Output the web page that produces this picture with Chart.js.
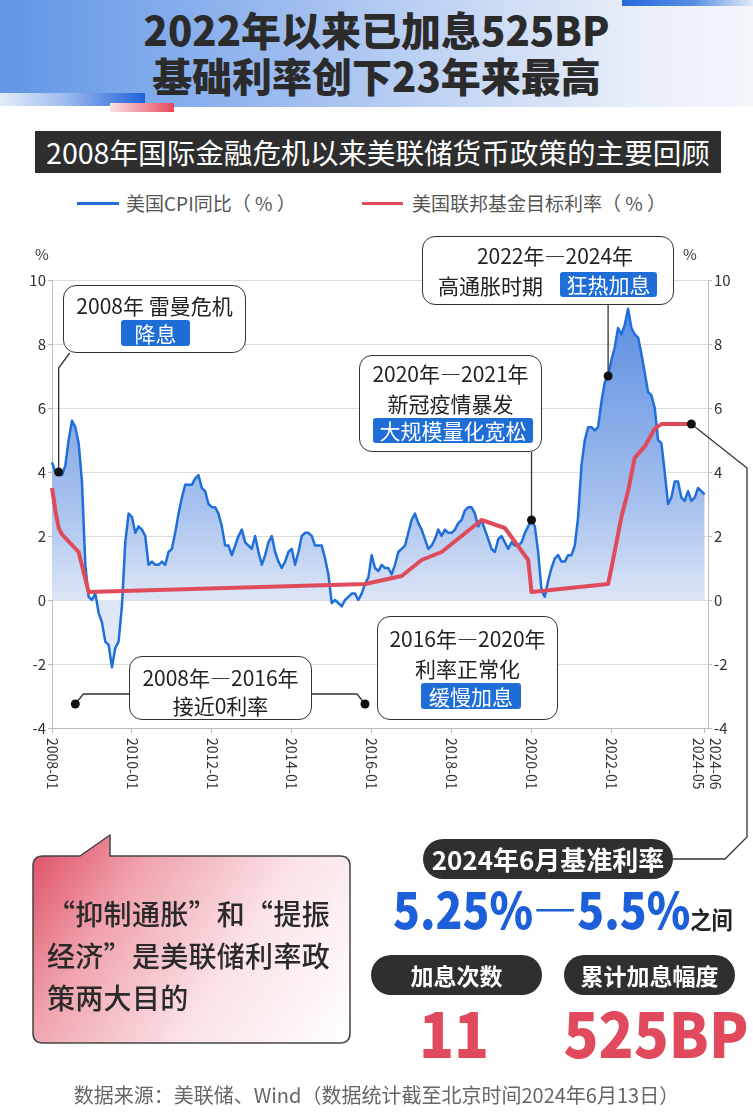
<!DOCTYPE html>
<html lang="zh-CN">
<head>
<meta charset="utf-8">
<title>2008年国际金融危机以来美联储货币政策的主要回顾</title>
<script src="https://cdn.jsdelivr.net/npm/chart.js@4.4.1/dist/chart.umd.min.js"></script>
<style>
  html, body { margin: 0; padding: 0; background: #fff; }
  body { width: 753px; height: 1115px; position: relative; overflow: hidden;
         font-family: "Noto Sans CJK SC", "Noto Sans", sans-serif; color: #222; }
  .a { position: absolute; white-space: nowrap; }
  .c { text-align: center; }
  #chartBox { position: absolute; left: 0; top: 0; width: 753px; height: 1115px; }
  .box { position: absolute; box-sizing: border-box; background: #fff;
         border: 1.5px solid #333; border-radius: 13px; }
  .call { font-size: 21px; line-height: 26px; height: 26px; color: #222; }
  .badge { position: absolute; background: #1f6ed8; color: #fff; border-radius: 3px;
           font-size: 21px; text-align: center; }
  .pill { position: absolute; background: #2f2f2f; color: #fff; border-radius: 21px;
          font-weight: 700; text-align: center; }
  .big { font-weight: 900; color: #e04a5c; font-size: 62px; line-height: 62px; height: 62px;
         transform: scaleX(0.93); transform-origin: 50% 0; }
</style>
</head>
<body>

<!-- header -->
<div class="a" style="left:0;top:0;width:753px;height:107px;background:linear-gradient(90deg,#6096e6 0%,#8fb3ee 30%,#c3d5f4 60%,#e9eff9 85%,#f4f6fb 100%);"></div>
<div class="a" style="left:622px;top:0;width:131px;height:6px;background:linear-gradient(90deg,#2468dc,#5a8ee4 55%,#e3ebf8);"></div>
<div class="a" style="left:0;top:93px;width:145px;height:13px;background:linear-gradient(90deg,#e4ecf9 0%,#9dbbf0 45%,#1f62d8 100%);"></div>
<div class="a" style="left:0;top:106px;width:110px;height:6px;background:#fff;"></div>
<div class="a" style="left:110px;top:103px;width:64px;height:9px;background:linear-gradient(90deg,#fbe3e6,#e5485a);"></div>
<div class="a c" style="left:0;top:9px;width:753px;font-size:40px;line-height:40px;font-weight:900;color:#2b2b2b;">2022年以来已加息525BP</div>
<div class="a c" style="left:0;top:55px;width:753px;font-size:40px;line-height:40px;font-weight:900;color:#2b2b2b;">基础利率创下23年来最高</div>

<div class="a c" style="left:35px;top:131px;width:686px;height:42px;line-height:42px;background:#2e2e2e;color:#fff;font-size:28.6px;">2008年国际金融危机以来美联储货币政策的主要回顾</div>

<!-- legend -->
<div class="a" style="left:77px;top:202px;width:42px;height:3px;background:#1f6fdb;"></div>
<div class="a" style="left:126px;top:191px;font-size:19px;line-height:24px;color:#555;">美国CPI同比（ % ）</div>
<div class="a" style="left:362px;top:202px;width:41px;height:3px;background:#e04b5c;"></div>
<div class="a" style="left:412px;top:191px;font-size:19px;line-height:24px;color:#555;">美国联邦基金目标利率（ % ）</div>

<div id="chartBox"><canvas id="chart"></canvas></div>

<!-- callouts -->
<div class="box" style="left:63px;top:285px;width:183px;height:68px;"></div>
<div class="a c call" style="left:63px;top:292px;width:183px;">2008年 雷曼危机</div>
<div class="badge" style="left:121px;top:320px;width:69px;height:26px;line-height:26px;">降息</div>

<div class="box" style="left:359px;top:355px;width:183px;height:97px;"></div>
<div class="a c call" style="left:359px;top:360px;width:183px;">2020年—2021年</div>
<div class="a c call" style="left:359px;top:390px;width:183px;">新冠疫情暴发</div>
<div class="badge" style="left:373px;top:418px;width:160px;height:25px;line-height:25px;">大规模量化宽松</div>

<div class="box" style="left:422px;top:236px;width:252px;height:69px;"></div>
<div class="a c call" style="left:422px;top:242px;width:266px;">2022年—2024年</div>
<div class="a call" style="left:438px;top:272px;">高通胀时期</div>
<div class="badge" style="left:560px;top:272px;width:97px;height:25px;line-height:25px;">狂热加息</div>

<div class="box" style="left:129px;top:656px;width:183px;height:64px;"></div>
<div class="a c call" style="left:129px;top:664px;width:183px;">2008年—2016年</div>
<div class="a c call" style="left:129px;top:692px;width:183px;">接近0利率</div>

<div class="box" style="left:377px;top:616px;width:181px;height:104px;"></div>
<div class="a c call" style="left:377px;top:625px;width:181px;">2016年—2020年</div>
<div class="a c call" style="left:377px;top:655px;width:181px;">利率正常化</div>
<div class="badge" style="left:421px;top:683px;width:100px;height:26px;line-height:26px;">缓慢加息</div>

<!-- speech bubble -->
<svg class="a" style="left:0;top:0;" width="753" height="1115" viewBox="0 0 753 1115">
  <defs>
    <linearGradient id="pink" x1="33" y1="835" x2="350" y2="1043" gradientUnits="userSpaceOnUse">
      <stop offset="0" stop-color="#de4a60"/>
      <stop offset="0.28" stop-color="#f0a2ad"/>
      <stop offset="0.62" stop-color="#fbe3e7"/>
      <stop offset="1" stop-color="#ffffff"/>
    </linearGradient>
  </defs>
  <path d="M43 856 L80 856 L110 835 L110 856 L340 856 Q350 856 350 866 L350 1033 Q350 1043 340 1043 L43 1043 Q33 1043 33 1033 L33 866 Q33 856 43 856 Z"
        fill="url(#pink)" stroke="#444" stroke-width="1.5" stroke-linejoin="round"/>
</svg>
<div class="a" style="left:47px;top:892px;font-size:28px;line-height:42px;font-weight:500;color:#2a2a2a;letter-spacing:0.3px;">“抑制通胀”和“提振<br>经济”是美联储利率政<br>策两大目的</div>

<!-- key numbers -->
<div class="pill" style="left:423px;top:839px;width:250px;height:40px;line-height:40px;font-size:26px;">2024年6月基准利率</div>
<div class="a" style="left:393px;top:882px;font-size:50px;line-height:50px;font-weight:900;color:#1c5fd8;transform:scaleX(0.885);transform-origin:0 0;">5.25%—5.5%<span style="font-size:24px;color:#222;font-weight:700;">之间</span></div>
<div class="pill" style="left:371px;top:955px;width:171px;height:40px;line-height:40px;font-size:23px;">加息次数</div>
<div class="pill" style="left:564px;top:955px;width:171px;height:40px;line-height:40px;font-size:23px;">累计加息幅度</div>
<div class="a c big" style="left:384px;top:1000px;width:140px;">11</div>
<div class="a c big" style="left:556px;top:1000px;width:200px;">525BP</div>

<div class="a c" style="left:0;top:1083px;width:753px;font-size:20px;line-height:24px;color:#666;">数据来源：美联储、Wind（数据统计截至北京时间2024年6月13日）</div>

<script>
// monthly categories 2008-01 .. 2024-06
const months = [];
for (let yr = 2008; yr <= 2024; yr++) {
    for (let m = 1; m <= 12; m++) {
        if (yr === 2024 && m > 6) break;
        months.push(yr + '-' + String(m).padStart(2, '0'));
    }
}

// US CPI year-on-year, %, 2008-01 .. 2024-05
const cpiYoY = [
    4.3, 4.0, 4.0, 3.9, 4.2, 5.0, 5.6, 5.4, 4.9, 3.7, 1.1, 0.1,
    0.0, 0.2, -0.4, -0.7, -1.3, -1.4, -2.1, -1.5, -1.3, -0.2, 1.8, 2.7,
    2.6, 2.1, 2.3, 2.2, 2.0, 1.1, 1.2, 1.1, 1.1, 1.2, 1.1, 1.5,
    1.6, 2.1, 2.7, 3.2, 3.6, 3.6, 3.6, 3.8, 3.9, 3.5, 3.4, 3.0,
    2.9, 2.9, 2.7, 2.3, 1.7, 1.7, 1.4, 1.7, 2.0, 2.2, 1.8, 1.7,
    1.6, 2.0, 1.5, 1.1, 1.4, 1.8, 2.0, 1.5, 1.2, 1.0, 1.2, 1.5,
    1.6, 1.1, 1.5, 2.0, 2.1, 2.1, 2.0, 1.7, 1.7, 1.7, 1.3, 0.8,
    -0.1, 0.0, -0.1, -0.2, 0.0, 0.1, 0.2, 0.2, 0.0, 0.2, 0.5, 0.7,
    1.4, 1.0, 0.9, 1.1, 1.0, 1.0, 0.8, 1.1, 1.5, 1.6, 1.7, 2.1,
    2.5, 2.7, 2.4, 2.2, 1.9, 1.6, 1.7, 1.9, 2.2, 2.0, 2.2, 2.1,
    2.1, 2.2, 2.4, 2.5, 2.8, 2.9, 2.9, 2.7, 2.3, 2.5, 2.2, 1.9,
    1.6, 1.5, 1.9, 2.0, 1.8, 1.6, 1.8, 1.7, 1.7, 1.8, 2.1, 2.3,
    2.5, 2.3, 1.5, 0.3, 0.1, 0.6, 1.0, 1.3, 1.4, 1.2, 1.2, 1.4,
    1.4, 1.7, 2.6, 4.2, 5.0, 5.4, 5.4, 5.3, 5.4, 6.2, 6.8, 7.0,
    7.5, 7.9, 8.5, 8.3, 8.6, 9.1, 8.5, 8.3, 8.2, 7.7, 7.1, 6.5,
    6.4, 6.0, 5.0, 4.9, 4.0, 3.0, 3.2, 3.7, 3.7, 3.2, 3.1, 3.4,
    3.1, 3.2, 3.5, 3.4, 3.3
];

// fed funds target rate, %, read at its turning points
const rateMonths = ['2008-01', '2008-02', '2008-03', '2008-04', '2008-09', '2008-12',
    '2015-11', '2016-10', '2017-04', '2017-10', '2018-10', '2019-05', '2019-12', '2020-01',
    '2021-12', '2022-01', '2022-04', '2022-06', '2022-08', '2022-11', '2023-02', '2023-04', '2024-01'];
const rateValues = [3.5, 2.8, 2.25, 2.05, 1.5, 0.25,
    0.5, 0.75, 1.25, 1.5, 2.5, 2.25, 1.25, 0.25,
    0.5, 1.0, 2.6, 3.4, 4.45, 4.8, 5.35, 5.5, 5.5];

const xTickLabels = ['2008-01', '2010-01', '2012-01', '2014-01', '2016-01', '2018-01', '2020-01', '2022-01', '2024-05'];
const xEndLabel = '2024-06';
const yTicks = [-4, -2, 0, 2, 4, 6, 8, 10];

function cpiFill(context) {
    const chart = context.chart;
    if (!chart.chartArea) return 'rgba(120,160,230,0.4)';
    const ys = chart.scales.y;
    const g = chart.ctx.createLinearGradient(0, ys.getPixelForValue(9.5), 0, ys.getPixelForValue(-2.5));
    g.addColorStop(0, '#568ae0');
    g.addColorStop(0.55, '#a8c2ee');
    g.addColorStop(0.79, '#dce5f6');
    g.addColorStop(1, '#eaf0fa');
    return g;
}

function leader(ctx, pts) {
    ctx.beginPath();
    ctx.moveTo(pts[0][0], pts[0][1]);
    for (let i = 1; i < pts.length; i++) ctx.lineTo(pts[i][0], pts[i][1]);
    ctx.stroke();
}
function dot(ctx, x, y) {
    ctx.beginPath();
    ctx.arc(x, y, 4.5, 0, Math.PI * 2);
    ctx.fill();
}

const decorations = {
    id: 'decorations',
    afterDraw(chart) {
        const { ctx, scales: { x, y } } = chart;
        ctx.save();

        // rotated x labels, reading downwards
        ctx.fillStyle = '#333';
        ctx.font = '14px "Noto Sans CJK SC"';
        ctx.textAlign = 'left';
        ctx.textBaseline = 'middle';
        const xl = xTickLabels.map(l => [l, x.getPixelForValue(months.indexOf(l))]);
        xl[xl.length - 1][1] -= 6;
        xl.push([xEndLabel, x.getPixelForValue(months.indexOf(xEndLabel)) + 7]);
        xl.forEach(([l, px]) => {
            ctx.save();
            ctx.translate(px, 738);
            ctx.rotate(Math.PI / 2);
            ctx.fillText(l, 0, 0);
            ctx.restore();
        });

        ctx.font = '15px "Noto Sans CJK SC"';
        ctx.textAlign = 'center';
        ctx.fillText('%', 42, 254);
        ctx.fillText('%', 690, 254);

        // leader lines and anchor dots
        ctx.strokeStyle = '#333';
        ctx.fillStyle = '#111';
        ctx.lineWidth = 1.3;
        const cpiAt = l => [x.getPixelForValue(months.indexOf(l)), y.getPixelForValue(cpiYoY[months.indexOf(l)])];

        const p1 = cpiAt('2008-03');
        leader(ctx, [p1, [p1[0], 368], [p1[0] + 11, 353]]);
        dot(ctx, p1[0], p1[1]);

        const p2 = cpiAt('2020-01');
        leader(ctx, [p2, [p2[0], 452]]);
        dot(ctx, p2[0], p2[1]);

        const p3 = cpiAt('2021-12');
        leader(ctx, [p3, [p3[0], 305]]);
        dot(ctx, p3[0], p3[1]);

        const yl = y.getPixelForValue(-3.25);
        const a = x.getPixelForValue(months.indexOf('2008-08'));
        const b = x.getPixelForValue(months.indexOf('2015-11'));
        leader(ctx, [[a, yl], [a + 8, 694], [129, 694]]);
        leader(ctx, [[312, 694], [b - 8, 694], [b, yl]]);
        dot(ctx, a, yl);
        dot(ctx, b, yl);

        const last = rateMonths.length - 1;
        const re = [x.getPixelForValue(months.indexOf(rateMonths[last])), y.getPixelForValue(rateValues[last])];
        leader(ctx, [re, [747, 468], [747, 837], [725, 859], [673, 859]]);
        dot(ctx, re[0], re[1]);

        ctx.restore();
    }
};

new Chart(document.getElementById('chart').getContext('2d'), {
    type: 'line',
    data: {
        labels: months,
        datasets: [
            {
                label: '美国联邦基金目标利率（%）',
                data: rateMonths.map((m, i) => ({ x: m, y: rateValues[i] })),
                borderColor: '#e04b5c',
                borderWidth: 4,
                borderJoinStyle: 'round',
                pointRadius: 0,
                tension: 0,
                fill: false,
                order: 0
            },
            {
                label: '美国CPI同比（%）',
                data: cpiYoY,
                borderColor: '#1f6fdb',
                borderWidth: 2.5,
                borderJoinStyle: 'round',
                pointRadius: 0,
                tension: 0,
                fill: 'origin',
                backgroundColor: cpiFill,
                order: 1
            }
        ]
    },
    options: {
        responsive: true,
        maintainAspectRatio: false,
        animation: false,
        layout: { padding: { top: 280, left: 0, right: 0, bottom: 0 } },
        plugins: { legend: { display: false }, tooltip: { enabled: false } },
        scales: {
            x: {
                type: 'category',
                ticks: { display: false, autoSkip: false },
                grid: { drawOnChartArea: false, tickLength: 5, color: '#bbb' },
                border: { color: '#bbb' },
                afterBuildTicks(scale) {
                    scale.ticks = xTickLabels.map(l => ({ value: months.indexOf(l) }));
                },
                afterFit(scale) { scale.height = 387; }
            },
            y: {
                position: 'left',
                min: -4, max: 10,
                afterBuildTicks(scale) { scale.ticks = yTicks.map(v => ({ value: v })); },
                ticks: { color: '#333', font: { family: 'Noto Sans CJK SC', size: 15 }, padding: 2 },
                grid: { color: '#dcdcdc', borderDash: [3, 3], tickLength: 4, tickColor: '#bbb', tickBorderDash: [] },
                border: { color: '#bbb' },
                afterFit(scale) { scale.width = 52; }
            },
            y2: {
                position: 'right',
                min: -4, max: 10,
                afterBuildTicks(scale) { scale.ticks = yTicks.map(v => ({ value: v })); },
                ticks: { color: '#333', font: { family: 'Noto Sans CJK SC', size: 15 }, padding: 2 },
                grid: { drawOnChartArea: false, tickLength: 4, color: '#bbb' },
                border: { color: '#bbb' },
                afterFit(scale) { scale.width = 45; }
            }
        }
    },
    plugins: [decorations]
});
</script>
</body>
</html>
